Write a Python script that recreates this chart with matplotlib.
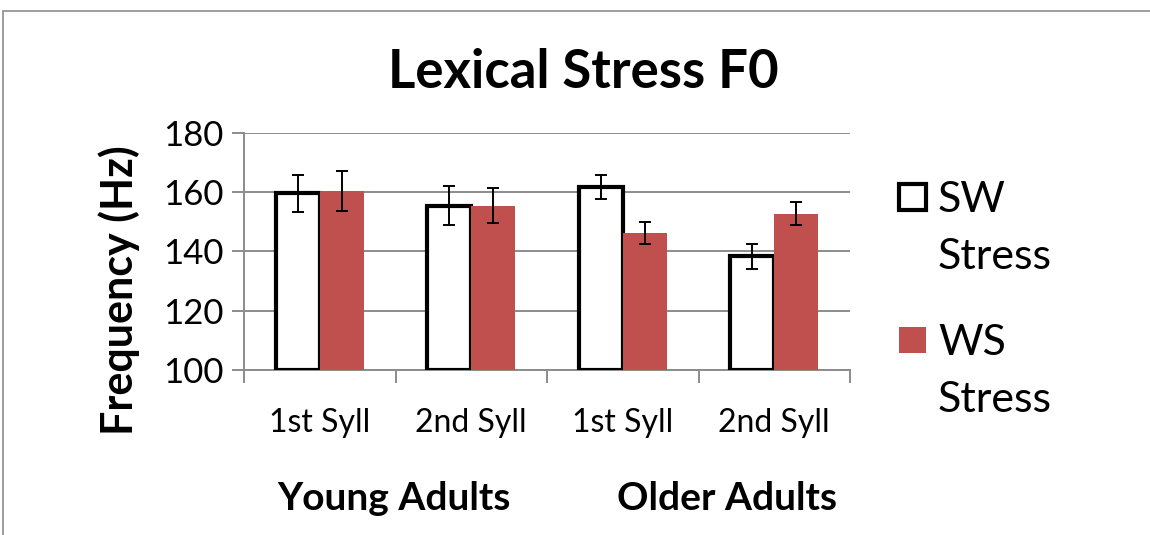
import matplotlib.pyplot as plt
from matplotlib.patches import Rectangle
from matplotlib.transforms import blended_transform_factory

# Data
categories = ['1st Syll', '2nd Syll', '1st Syll', '2nd Syll']
groups = ['Young Adults', 'Older Adults']
group_pos = [0.49, 2.69]
sw_values = [159.7, 155.5, 161.8, 138.4]
sw_errors = [6.2, 6.7, 4.1, 4.3]
ws_values = [160.4, 155.4, 146.1, 152.8]
ws_errors = [6.8, 5.9, 3.7, 3.8]
y_ticks = [100, 120, 140, 160, 180]
series = ['SW\nStress', 'WS\nStress']

W, H = 1150, 535
RED = '#C0504D'
GRID = '#8c8c8c'

plt.rcParams['font.family'] = ['Lato', 'DejaVu Sans']

fig = plt.figure(figsize=(W / 100, H / 100), dpi=100)
ax = fig.add_axes([244 / W, 1 - 370 / H, 606 / W, 237 / H])


def fx(px):
    return px / W


def fy(py):
    return 1 - py / H


# outer chart border (cut off at right and bottom)
fig.patches.append(Rectangle((fx(3), -0.1), 1.2, fy(11) + 0.1,
                             transform=fig.transFigure, fill=False,
                             edgecolor=GRID, linewidth=1.2))

x = list(range(len(categories)))
w = 0.29
ax.bar([i - w / 2 for i in x], [v - 100 for v in sw_values], w, bottom=100,
       facecolor='white', edgecolor='black', linewidth=3.0, zorder=3)
ax.bar([i + w / 2 for i in x], [v - 100 for v in ws_values], w, bottom=100,
       color=RED, zorder=3)
ax.errorbar([i - w / 2 for i in x], sw_values, yerr=sw_errors, fmt='none',
            ecolor='black', elinewidth=1.4, capsize=4.5, capthick=1.4, zorder=4)
ax.errorbar([i + w / 2 for i in x], ws_values, yerr=ws_errors, fmt='none',
            ecolor='black', elinewidth=1.4, capsize=4.5, capthick=1.4, zorder=4)

ax.set_ylim(100, 180)
ax.set_xlim(-0.5, len(categories) - 0.5)
ax.set_yticks(y_ticks)
ax.yaxis.grid(True, color=GRID, linewidth=1.4)
ax.set_axisbelow(True)
for side in ['top', 'right']:
    ax.spines[side].set_visible(False)
for side in ['left', 'bottom']:
    ax.spines[side].set_color(GRID)
    ax.spines[side].set_linewidth(1.4)

ax.set_xticks([i - 0.5 for i in range(len(categories) + 1)])
ax.set_xticklabels([])
ax.set_xticks(x, minor=True)
ax.set_xticklabels(categories, minor=True, fontsize=23)
ax.tick_params(axis='x', which='major', length=9, width=1.4, color=GRID)
ax.tick_params(axis='x', which='minor', length=0, pad=27)
ax.tick_params(axis='y', length=9, width=1.4, color=GRID, labelsize=25, pad=6)

fig.text(fx(119), fy(290), 'Frequency (Hz)', rotation=90, ha='center',
         va='center', fontsize=31, fontweight='bold')
fig.text(fx(583), fy(72), 'Lexical Stress F0', ha='center', va='center',
         fontsize=38, fontweight='bold')

# group labels under the category ticks
group_trans = blended_transform_factory(ax.transData, fig.transFigure)
for gx, name in zip(group_pos, groups):
    ax.text(gx, fy(498), name, transform=group_trans,
            ha='center', va='center', fontsize=28, fontweight='bold')

# legend drawn by hand to match the reference spacing
legend_y = [197, 340]
for k, (label, ty) in enumerate(zip(series, legend_y)):
    if k == 0:
        patch = Rectangle((fx(899), fy(ty + 13)), fx(27), 26 / H,
                          transform=fig.transFigure, facecolor='white',
                          edgecolor='black', linewidth=3.0)
    else:
        patch = Rectangle((fx(899), fy(ty + 13)), fx(27), 26 / H,
                          transform=fig.transFigure, facecolor=RED,
                          edgecolor='none')
    fig.patches.append(patch)
    fig.text(fx(938), fy(ty - 16), label, ha='left', va='top', fontsize=31,
             linespacing=1.62)

fig.savefig('out.png', dpi=100)
